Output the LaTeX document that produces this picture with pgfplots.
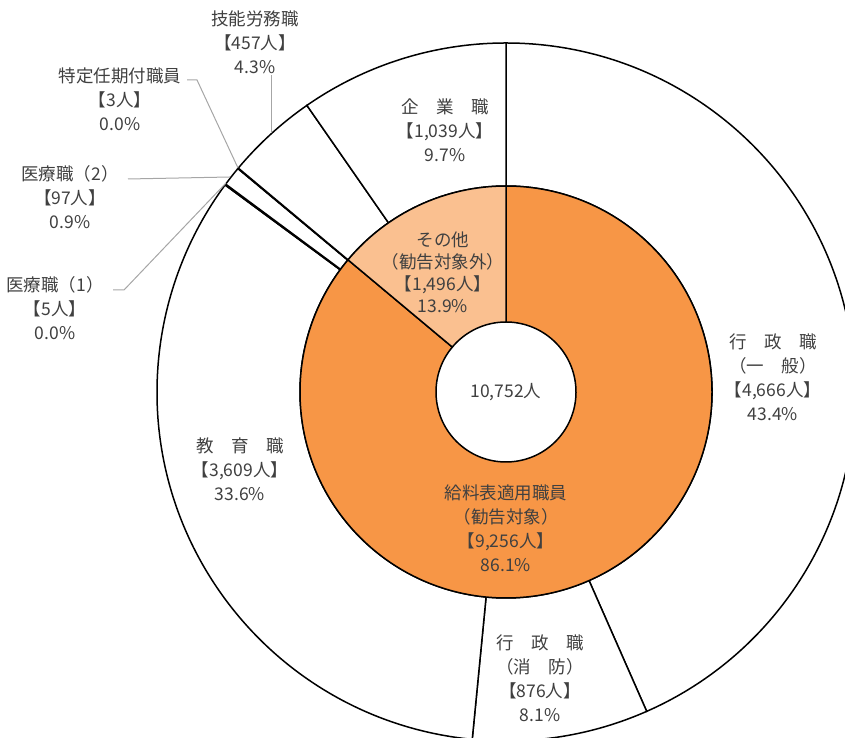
\documentclass[border=0pt]{standalone}
\usepackage{pgfplots}
\pgfplotsset{compat=1.18}
\usepackage{pgfplotstable}
\usepackage{fontspec}
\setmainfont{Noto Sans CJK JP}

\definecolor{kyuryo}{RGB}{247,150,70}
\definecolor{sonota}{RGB}{250,192,144}
\definecolor{txt}{RGB}{64,64,64}
\definecolor{leader}{RGB}{166,166,166}

% outer ring: job categories, clockwise from 12 o'clock
\pgfplotstableread{
name    value col
ippan   4666  white
shobo   876   white
kyoiku  3609  white
iryo1   5     white
iryo2   97    white
tokutei 3     white
gino    457   white
kigyo   1039  white
}\outerdata
% inner ring
\pgfplotstableread{
name    value col
kyuryo  9256  kyuryo
sonota  1496  sonota
}\innerdata
\def\total{10752}

% #1 table, #2 outer radius, #3 inner radius (bp = axis units)
\newcommand\drawring[3]{%
  \pgfplotstablegetrowsof{#1}%
  \pgfmathtruncatemacro\nlast{\pgfplotsretval-1}%
  \def\cum{0}%
  \pgfplotsforeachungrouped \i in {0,...,\nlast}{%
    \pgfplotstablegetelem{\i}{value}\of{#1}\let\val\pgfplotsretval
    \pgfplotstablegetelem{\i}{col}\of{#1}\let\col\pgfplotsretval
    \pgfmathsetmacro\sa{90-\cum/\total*360}%
    \pgfmathsetmacro\cum{\cum+\val}%
    \pgfmathsetmacro\ea{90-\cum/\total*360}%
    \pgfmathsetmacro\xa{#2*cos(\sa)}\pgfmathsetmacro\ya{#2*sin(\sa)}%
    \pgfmathsetmacro\xb{#3*cos(\ea)}\pgfmathsetmacro\yb{#3*sin(\ea)}%
    \edef\tmp{\noexpand\filldraw[fill=\col,draw=black,line width=1.5bp]
      (axis cs:\xa,\ya) arc[start angle=\sa,end angle=\ea,radius=#2bp]
      -- (axis cs:\xb,\yb) arc[start angle=\ea,end angle=\sa,radius=#3bp] -- cycle;}%
    \tmp
  }%
}

\tikzset{lbl/.style={align=center, text=txt, inner sep=0pt,
    font=\fontsize{17.5bp}{24bp}\selectfont}}

\begin{document}
\begin{tikzpicture}
\begin{axis}[
  hide axis, scale only axis,
  width=845bp, height=738bp,
  xmin=-506, xmax=339, ymin=-346, ymax=392,
  clip=true,
]
\coordinate (ll) at (rel axis cs:0,0);
\coordinate (ur) at (rel axis cs:1,1);

\drawring{\outerdata}{349}{206}
\drawring{\innerdata}{206}{70}

% leader lines
\draw[leader, line width=1bp] (axis cs:-235,317) -- (axis cs:-235,259);
\draw[leader, line width=1bp] (axis cs:-319,312) -- (axis cs:-309,312) -- (axis cs:-268,224);
\draw[leader, line width=1bp] (axis cs:-378,213) -- (axis cs:-276,215);
\draw[leader, line width=1bp] (axis cs:-393,102) -- (axis cs:-382,102) -- (axis cs:-280,209);

% outer labels
\node[lbl] at (axis cs:267,15) {行　政　職\\（一　般）\\【4,666人】\\43.4\%};
\node[lbl] at (axis cs:34,-286) {行　政　職\\（消　防）\\【876人】\\8.1\%};
\node[lbl] at (axis cs:-266,-77) {教　育　職\\【3,609人】\\33.6\%};
\node[lbl] at (axis cs:-451,84) {医療職（1）\\【5人】\\0.0\%};
\node[lbl] at (axis cs:-436,195) {医療職（2）\\【97人】\\0.9\%};
\node[lbl] at (axis cs:-386,293) {特定任期付職員\\【3人】\\0.0\%};
\node[lbl] at (axis cs:-251,350) {技能労務職\\【457人】\\4.3\%};
\node[lbl] at (axis cs:-61,262) {企　業　職\\【1,039人】\\9.7\%};

% inner labels
\node[lbl, font=\fontsize{17.5bp}{22bp}\selectfont] at (axis cs:-63,120) {その他\\（勧告対象外）\\【1,496人】\\13.9\%};
\node[lbl] at (axis cs:0,-136) {給料表適用職員\\（勧告対象）\\【9,256人】\\86.1\%};
\node[lbl] at (axis cs:0,0) {10,752人};
\end{axis}
\pgfresetboundingbox
\useasboundingbox (ll) rectangle (ur);
\end{tikzpicture}
\end{document}
